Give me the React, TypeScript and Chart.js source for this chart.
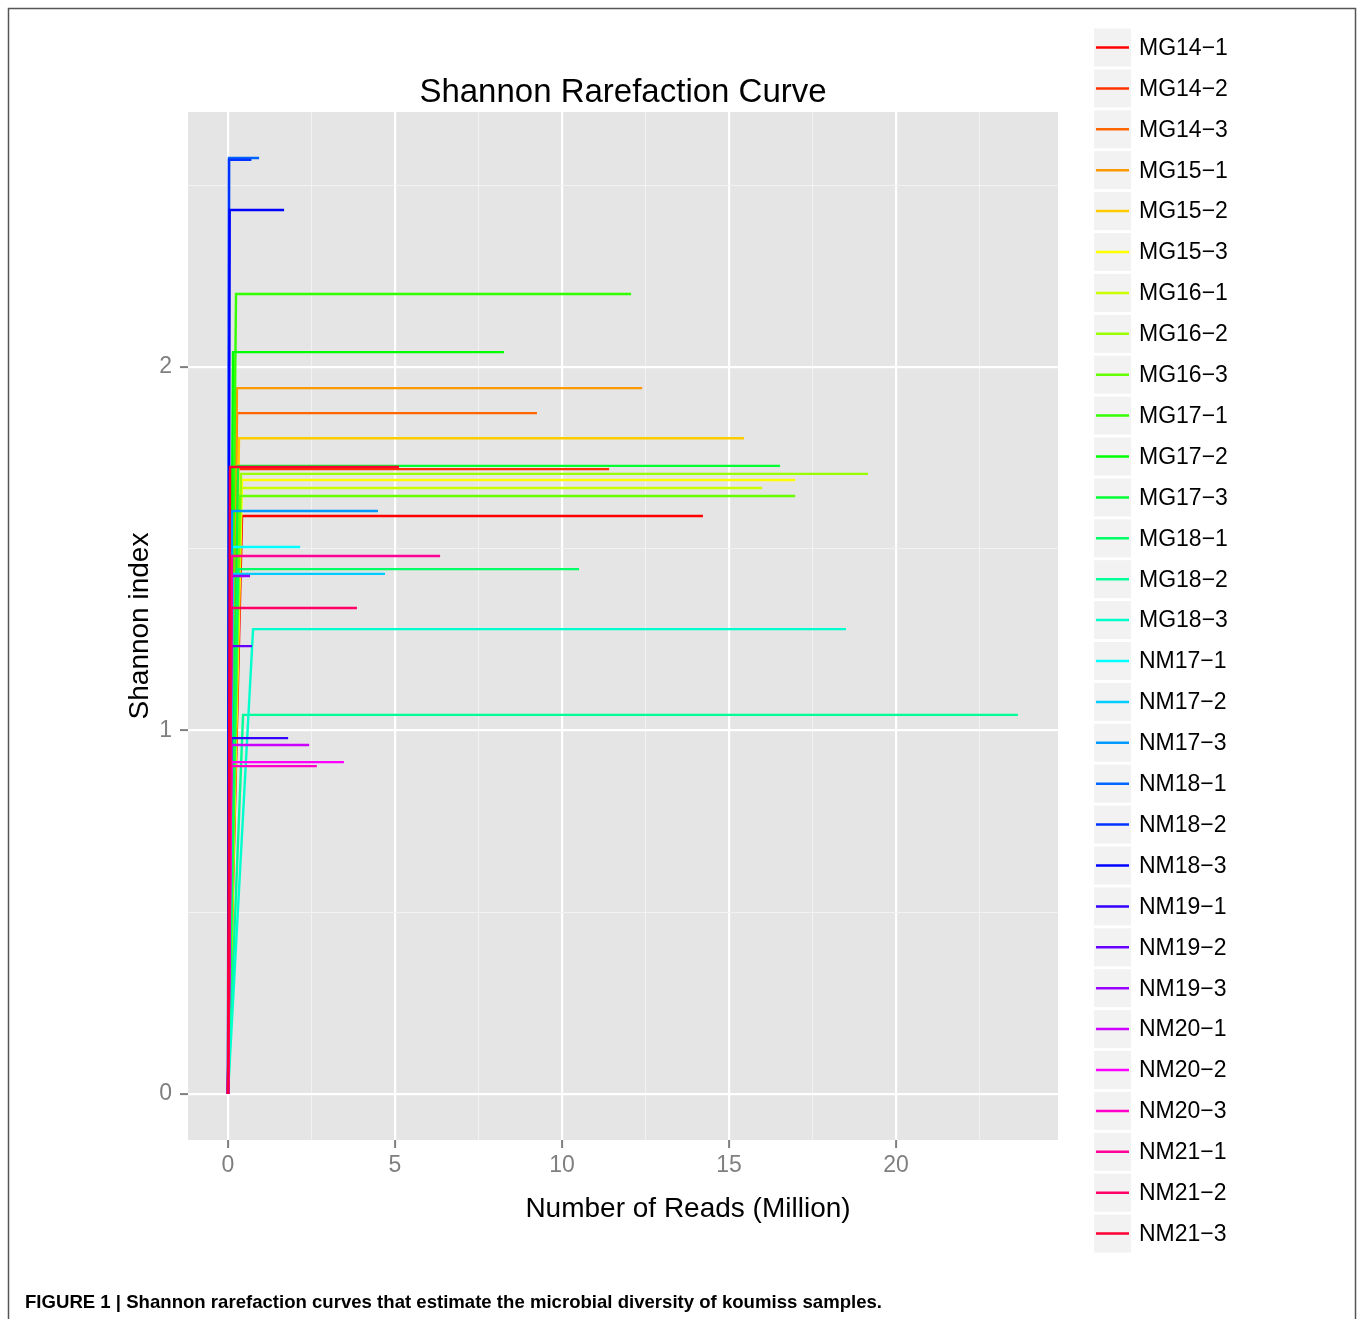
import React, { useEffect, useRef } from "react";
import { Chart, registerables } from "chart.js";

Chart.register(...registerables);

// ---------- data ----------
const sampleNames = [
  "MG14−1", "MG14−2", "MG14−3", "MG15−1", "MG15−2", "MG15−3",
  "MG16−1", "MG16−2", "MG16−3", "MG17−1", "MG17−2", "MG17−3",
  "MG18−1", "MG18−2", "MG18−3", "NM17−1", "NM17−2", "NM17−3",
  "NM18−1", "NM18−2", "NM18−3", "NM19−1", "NM19−2", "NM19−3",
  "NM20−1", "NM20−2", "NM20−3", "NM21−1", "NM21−2", "NM21−3",
];

// rainbow(30) palette
const lineColors = [
  "#FF0000", "#FF3300", "#FF6600", "#FF9900", "#FFCC00", "#FFFF00",
  "#CCFF00", "#99FF00", "#66FF00", "#33FF00", "#00FF00", "#00FF33",
  "#00FF66", "#00FF99", "#00FFCC", "#00FFFF", "#00CCFF", "#0099FF",
  "#0066FF", "#0033FF", "#0000FF", "#3300FF", "#6600FF", "#9900FF",
  "#CC00FF", "#FF00FF", "#FF00CC", "#FF0099", "#FF0066", "#FF0033",
];

// Shannon index at the plateau
const plateauShannon = [
  1.590, 1.719, 1.873, 1.942, 1.804, 1.689,
  1.667, 1.706, 1.645, 2.201, 2.041, 1.728,
  1.444, 1.043, 1.279, 1.505, 1.431, 1.604,
  2.575, 2.570, 2.432, 0.979, 1.232, 1.425,
  0.960, 0.913, 0.902, 1.480, 1.337, 1.725,
];

// reads (million) where the curve reaches its plateau
const kneeReads = [
  0.42, 0.10, 0.27, 0.27, 0.33, 0.42,
  0.39, 0.39, 0.36, 0.24, 0.15, 0.30,
  0.30, 0.45, 0.75, 0.12, 0.15, 0.12,
  0.03, 0.03, 0.05, 0.10, 0.10, 0.10,
  0.10, 0.10, 0.10, 0.12, 0.10, 0.06,
];

// total reads (million) of each sample
const maxReads = [
  14.22, 11.41, 9.25, 12.40, 15.45, 16.98,
  15.99, 19.16, 16.98, 12.07, 8.26, 16.53,
  10.51, 23.65, 18.50, 2.16, 4.70, 4.49,
  0.93, 0.70, 1.68, 1.80, 0.72, 0.66,
  2.43, 3.47, 2.66, 6.35, 3.86, 5.12,
];

const xTickValues = [0, 2.5, 5, 7.5, 10, 12.5, 15, 17.5, 20, 22.5];
const xMajorTicks = [0, 5, 10, 15, 20];
const yTickValues = [0, 0.5, 1, 1.5, 2, 2.5];
const yMajorTicks = [0, 1, 2];

const chartTitle = "Shannon Rarefaction Curve";
const xAxisTitle = "Number of Reads (Million)";
const yAxisTitle = "Shannon index";
const captionText =
  "FIGURE 1 | Shannon rarefaction curves that estimate the microbial diversity of koumiss samples.";

const FONT = "'Liberation Sans', Arial, Helvetica, sans-serif";

const isMajor = (list: number[], v: number) => list.some((m) => Math.abs(m - v) < 1e-9);

const backgroundPlugin = {
  id: "ggBackground",
  beforeDraw(chart: any) {
    const { ctx, chartArea } = chart;
    ctx.save();
    ctx.fillStyle = "#FFFFFF";
    ctx.fillRect(0, 0, chart.width, chart.height);
    // figure frame
    ctx.strokeStyle = "#555555";
    ctx.lineWidth = 1.5;
    ctx.strokeRect(8.5, 8.5, 1347, 1400);
    // panel
    ctx.fillStyle = "#E5E5E5";
    ctx.fillRect(chartArea.left, chartArea.top, chartArea.right - chartArea.left, chartArea.bottom - chartArea.top);
    ctx.restore();
  },
};

const legendPlugin = {
  id: "ggLegend",
  afterDraw(chart: any) {
    const { ctx } = chart;
    ctx.save();
    chart.data.datasets.forEach((ds: any, i: number) => {
      const top = 28.5 + i * 40.9;
      const cy = top + 19;
      ctx.fillStyle = "#F2F2F2";
      ctx.fillRect(1094, top, 37, 38);
      ctx.strokeStyle = ds.borderColor;
      ctx.lineWidth = 2.5;
      ctx.beginPath();
      ctx.moveTo(1096, cy);
      ctx.lineTo(1129, cy);
      ctx.stroke();
      ctx.fillStyle = "#000000";
      ctx.font = `23px ${FONT}`;
      ctx.textBaseline = "middle";
      ctx.textAlign = "left";
      ctx.fillText(ds.label, 1139, cy + 1);
    });
    // x axis title (centred as in the original figure)
    ctx.fillStyle = "#000000";
    ctx.font = `28px ${FONT}`;
    ctx.textAlign = "center";
    ctx.textBaseline = "middle";
    ctx.fillText(xAxisTitle, 688, 1209);
    // caption
    ctx.font = `bold 19px ${FONT}`;
    ctx.textBaseline = "middle";
    ctx.textAlign = "left";
    ctx.fillText(captionText, 25, 1303, 857);
    ctx.restore();
  },
};

export default function App() {
  const canvasRef = useRef<HTMLCanvasElement | null>(null);

  useEffect(() => {
    document.body.style.margin = "0";
    const canvas = canvasRef.current;
    if (!canvas) return;

    const datasets = sampleNames.map((name, i) => ({
      label: name,
      data: [
        { x: 0, y: 0 },
        { x: kneeReads[i], y: plateauShannon[i] },
        { x: maxReads[i], y: plateauShannon[i] },
      ],
      borderColor: lineColors[i],
      backgroundColor: lineColors[i],
      borderWidth: 2.4,
      pointRadius: 0,
      pointHoverRadius: 0,
      tension: 0,
      fill: false,
      order: sampleNames.length - 1 - i,
    }));

    const chart = new Chart(canvas, {
      type: "line",
      data: { datasets },
      plugins: [backgroundPlugin, legendPlugin],
      options: {
        animation: false,
        responsive: false,
        devicePixelRatio: 1,
        layout: {
          padding: { left: 123.2, right: 302, top: 73.4, bottom: 93.8 },
        },
        plugins: {
          legend: { display: false },
          tooltip: { enabled: false },
          title: {
            display: true,
            text: chartTitle,
            fullSize: false,
            color: "#000000",
            font: { family: FONT, size: 33, weight: "normal" as any, lineHeight: 1.2 },
            padding: { top: 0, bottom: -1 },
          },
        },
        scales: {
          x: {
            type: "linear",
            min: -1.198,
            max: 24.85,
            afterBuildTicks: (scale: any) => {
              scale.ticks = xTickValues.map((v) => ({ value: v }));
            },
            afterFit: (scale: any) => {
              scale.height = 85.2;
            },
            border: { display: false },
            grid: {
              color: (c: any) => (isMajor(xMajorTicks, c.tick.value) ? "#FFFFFF" : "#F2F2F2"),
              lineWidth: (c: any) => (isMajor(xMajorTicks, c.tick.value) ? 2.2 : 1),
              tickColor: (c: any) => (isMajor(xMajorTicks, c.tick.value) ? "#7F7F7F" : "rgba(0,0,0,0)"),
              tickWidth: 2,
              tickLength: 8,
              drawTicks: true,
            },
            ticks: {
              autoSkip: false,
              maxRotation: 0,
              padding: 4,
              color: "#7F7F7F",
              font: { family: FONT, size: 23 },
              callback: (v: any) => (isMajor(xMajorTicks, Number(v)) ? String(v) : ""),
            },
            title: { display: false },
          },
          y: {
            type: "linear",
            min: -0.1265,
            max: 2.7015,
            afterBuildTicks: (scale: any) => {
              scale.ticks = yTickValues.map((v) => ({ value: v }));
            },
            afterFit: (scale: any) => {
              scale.width = 64.8;
            },
            border: { display: false },
            grid: {
              color: (c: any) => (isMajor(yMajorTicks, c.tick.value) ? "#FFFFFF" : "#F2F2F2"),
              lineWidth: (c: any) => (isMajor(yMajorTicks, c.tick.value) ? 2.2 : 1),
              tickColor: (c: any) => (isMajor(yMajorTicks, c.tick.value) ? "#7F7F7F" : "rgba(0,0,0,0)"),
              tickWidth: 2,
              tickLength: 8,
              drawTicks: true,
            },
            ticks: {
              autoSkip: false,
              padding: 8,
              color: "#7F7F7F",
              font: { family: FONT, size: 23 },
              callback: (v: any) => (isMajor(yMajorTicks, Number(v)) ? String(v) : ""),
            },
            title: {
              display: true,
              text: yAxisTitle,
              color: "#000000",
              font: { family: FONT, size: 28, lineHeight: 1.2 },
              padding: 0,
            },
          },
        },
      },
    });

    return () => chart.destroy();
  }, []);

  return (
    <div style={{ width: 1360, height: 1319, position: "relative" }}>
      <canvas ref={canvasRef} width={1360} height={1319} style={{ display: "block", width: 1360, height: 1319 }} />
    </div>
  );
}
